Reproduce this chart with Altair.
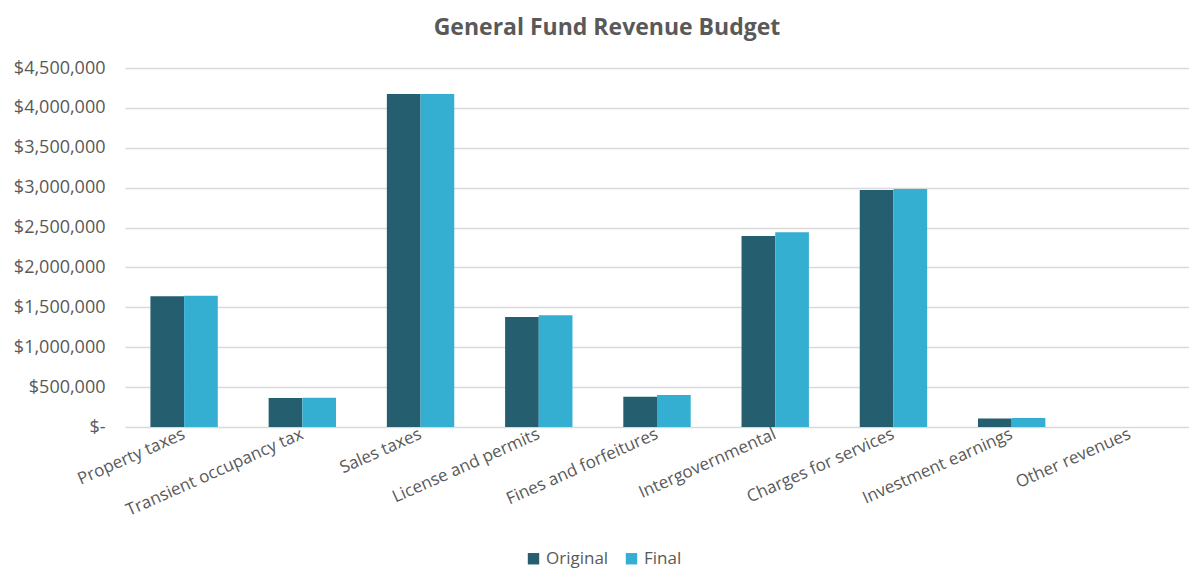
import altair as alt
import pandas as pd

categories = ["Property taxes", "Transient occupancy tax", "Sales taxes", "License and permits",
              "Fines and forfeitures", "Intergovernmental", "Charges for services",
              "Investment earnings", "Other revenues"]
original = [1640000, 362000, 4175000, 1380000, 378000, 2395000, 2970000, 105000, 0]
final = [1645000, 366000, 4175000, 1402000, 400000, 2442000, 2982000, 112000, 0]
series = ["Original", "Final"]
colors = ["#245e6f", "#35afd1"]

rows = []
for c, o, f in zip(categories, original, final):
    rows.append({"category": c, "series": "Original", "value": o})
    rows.append({"category": c, "series": "Final", "value": f})
df = pd.DataFrame(rows)

font = "Open Sans"
gray = "#595959"

chart = alt.Chart(df).mark_bar().encode(
    x=alt.X("category:N", sort=categories,
            scale=alt.Scale(paddingInner=0.43, paddingOuter=0.215),
            axis=alt.Axis(title=None, labelAngle=-24, labelAlign="right", labelBaseline="middle",
                          labelFont=font, labelFontSize=17, labelColor=gray, ticks=False,
                          domain=False, labelPadding=6, labelLimit=300)),
    xOffset=alt.XOffset("series:N", sort=series),
    y=alt.Y("value:Q", scale=alt.Scale(domain=[0, 4500000]),
            axis=alt.Axis(title=None, values=[0, 500000, 1000000, 1500000, 2000000, 2500000,
                                              3000000, 3500000, 4000000, 4500000],
                          labelExpr="datum.value == 0 ? '$-' : '$' + format(datum.value, ',')",
                          labelFont=font, labelFontSize=18, labelColor=gray, ticks=False,
                          domain=False, labelPadding=20, gridColor="#d9d9d9", gridWidth=1.5)),
    color=alt.Color("series:N", sort=series, scale=alt.Scale(domain=series, range=colors),
                    legend=alt.Legend(title=None, orient="none", direction="horizontal",
                                      legendX=400, legendY=482, symbolType="square",
                                      symbolSize=130, labelFont=font, labelFontSize=17,
                                      labelColor=gray, columnPadding=14, symbolStrokeWidth=0)),
).properties(
    width=1064, height=359,
    padding={"left": 5, "top": 9, "right": 0, "bottom": 5},
    title=alt.TitleParams("General Fund Revenue Budget", font=font, fontSize=23,
                          fontWeight="bold", color=gray, anchor="middle", offset=19,
                          dx=-50),
).configure_view(stroke=None)

chart.save("out.html", embed_options={"renderer": "svg", "actions": False})
